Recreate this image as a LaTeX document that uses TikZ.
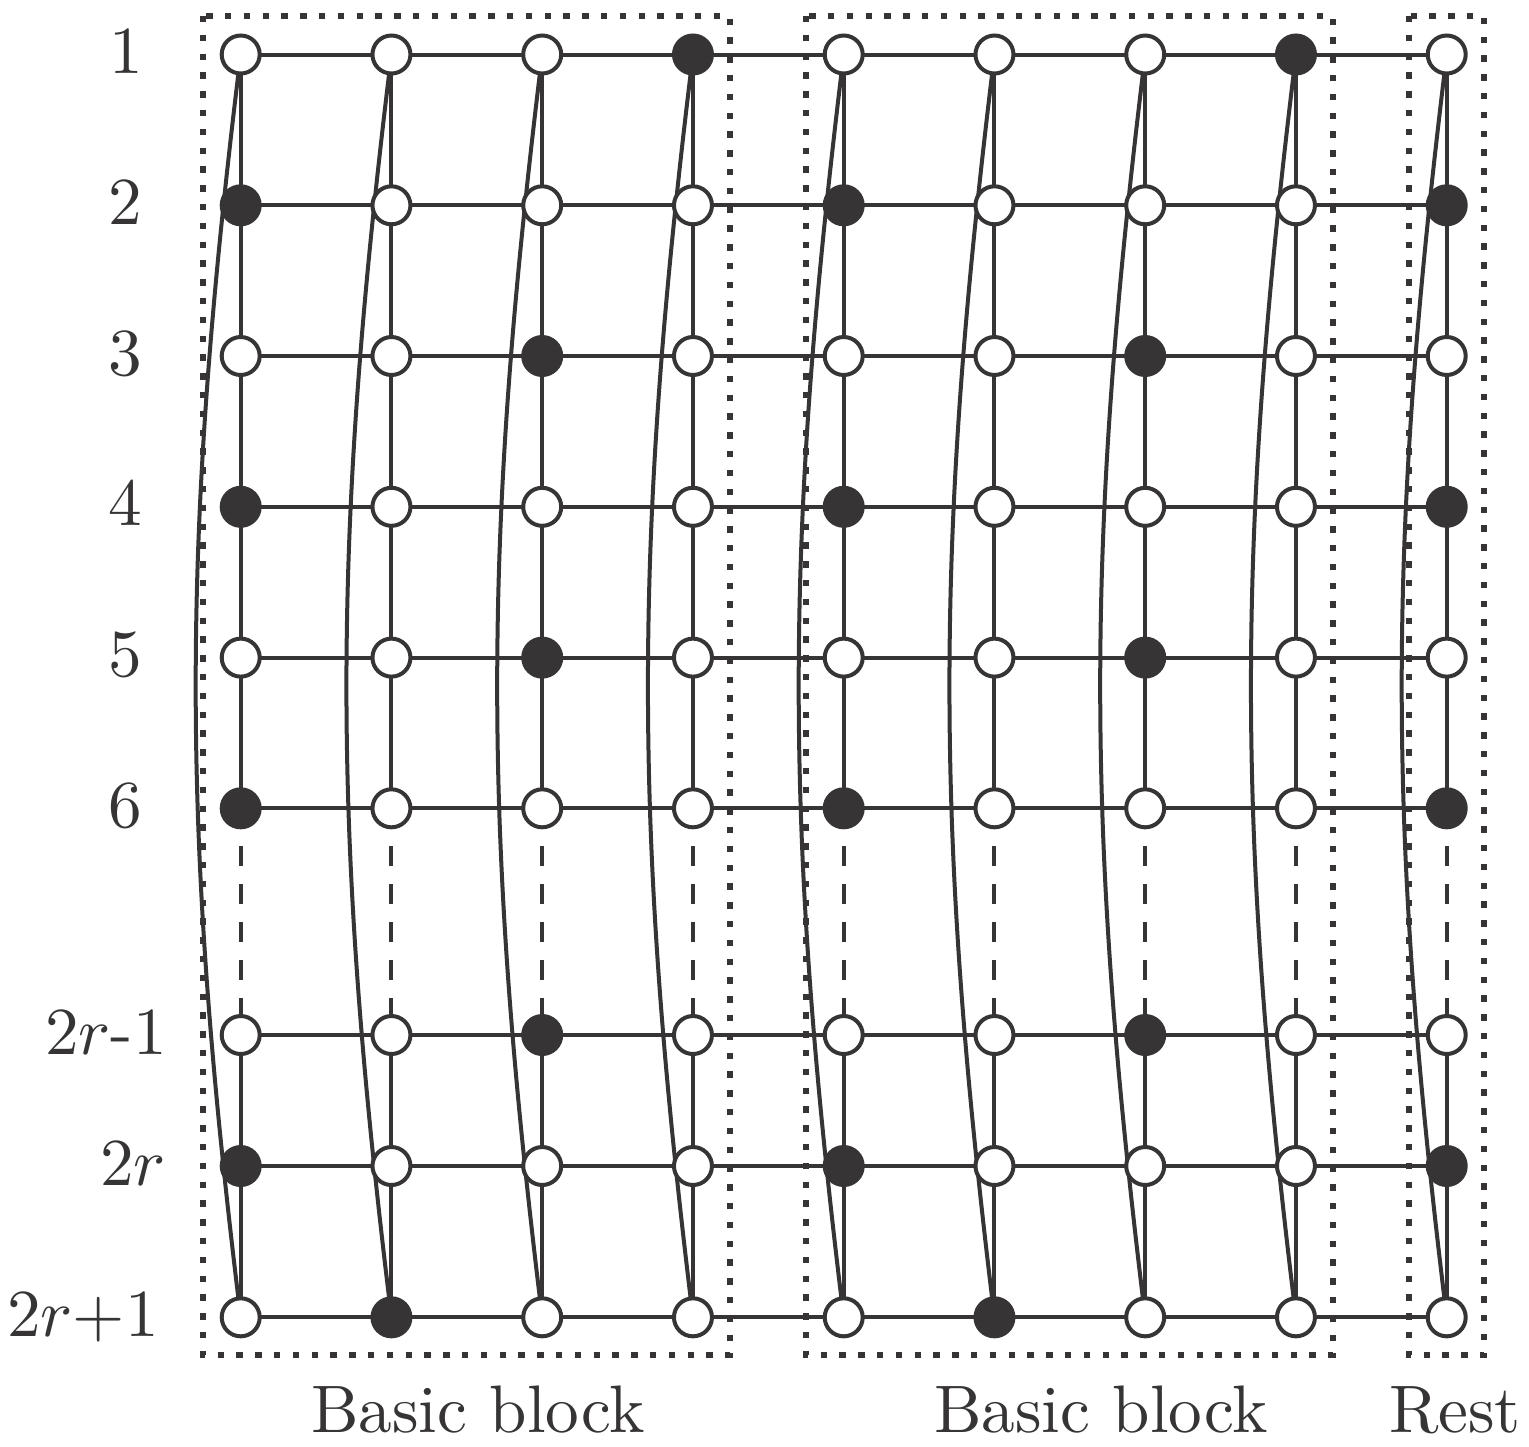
\documentclass[tikz,border=0pt]{standalone}
\usetikzlibrary{backgrounds}
\definecolor{ink}{RGB}{54,52,53}
\begin{document}
\begin{tikzpicture}[x=0.5pt,y=0.5pt,
  wnode/.style={circle, draw=ink, fill=white, line width=2pt, minimum size=19pt, inner sep=0pt},
  bnode/.style={wnode, fill=ink},
  edge/.style={draw=ink, line width=2pt},
  dashedge/.style={edge, dash pattern=on 10pt off 9pt},
  frame/.style={draw=ink, line width=3.2pt, dash pattern=on 3.2pt off 6.2pt},
  lbl/.style={scale=3.36, text=ink, anchor=base, inner sep=0pt}]
\useasboundingbox (0,0) rectangle (1529,-1446);
% nodes
\foreach \r/\yy/\b in {1/54.5/0, 2/205.3/1, 3/356/3, 4/506.8/1, 5/657.6/3, 6/808.3/1, 7/1035/3, 8/1166/1, 9/1317.3/2} {
  \foreach \c in {1,...,9} {
    \pgfmathtruncatemacro\m{mod(\c,4)}
    \pgfmathsetmacro\xx{240.7+150.75*(\c-1)}
    \ifnum\m=\b\relax \def\sty{bnode}\else\def\sty{wnode}\fi
    \node[\sty] (n\c-\r) at (\xx,-\yy) {};
  }
}
\begin{scope}[on background layer]
  % horizontal edges
  \foreach \r in {1,...,9} {
    \foreach \c in {1,...,8} {
      \pgfmathtruncatemacro\d{\c+1}
      \draw[edge] (n\c-\r.center) -- (n\d-\r.center);
    }
  }
  % vertical edges
  \foreach \c in {1,...,9} {
    \foreach \r in {1,2,3,4,5,7,8} {
      \pgfmathtruncatemacro\s{\r+1}
      \draw[edge] (n\c-\r.center) -- (n\c-\s.center);
    }
    \draw[dashedge] (n\c-6.center) -- (n\c-7.center);
    \draw[edge] (n\c-1.center) to[bend right=7] (n\c-9.center);
  }
\end{scope}
% frames
\draw[frame] (203,-16) rectangle (730,-1355);
\draw[frame] (806,-16) rectangle (1333,-1355);
\draw[frame] (1409,-16) rectangle (1484,-1355);
% row labels
\node[lbl] (r1) at (126,-73.5) {1};
\node[lbl] (r2) at (125,-224.3) {2};
\node[lbl] (r3) at (125,-375) {3};
\node[lbl] (r4) at (125,-525.8) {4};
\node[lbl] (r5) at (125,-676.6) {5};
\node[lbl] (r6) at (125,-827.3) {6};
\node[lbl] (r7) at (106,-1054) {$2r$-1};
\node[lbl] (r8) at (133,-1185) {$2r$};
\node[lbl] (r9) at (83,-1336.3) {$2r{+}1$};
% block labels
\node[lbl] (b1) at (478,-1432) {Basic block};
\node[lbl] (b2) at (1101,-1432) {Basic block};
\node[lbl] (b3) at (1455,-1432) {Rest};
\end{tikzpicture}
\end{document}
